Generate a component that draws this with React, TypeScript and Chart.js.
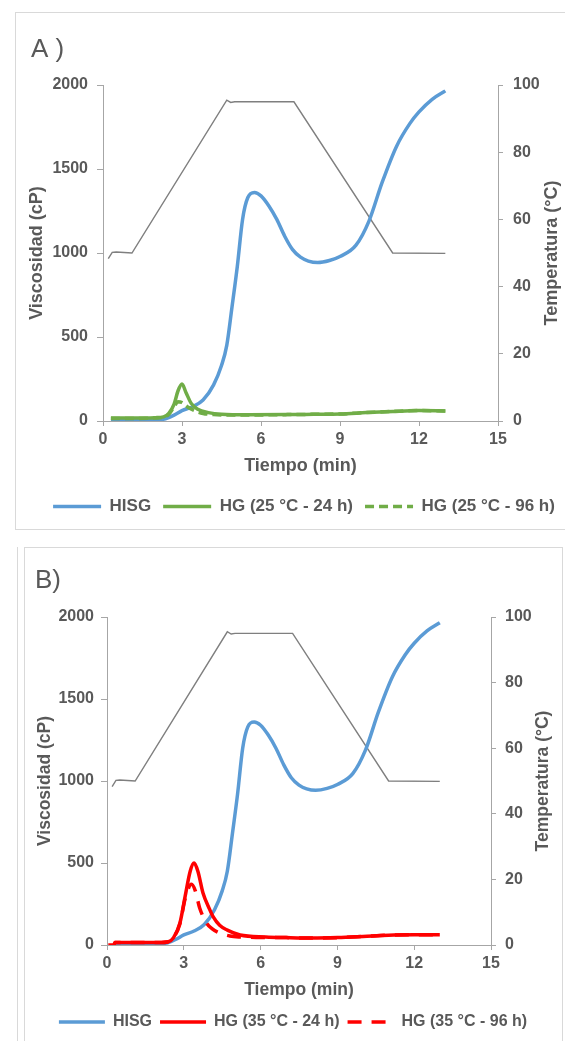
import React, { useEffect, useRef } from "react";
import { Chart, registerables } from "chart.js";

Chart.register(...registerables);

const FONT = '"Liberation Sans", Arial, sans-serif';
const TEXT = "#595959";
const AXIS = "#a6a6a6";
const FRAME = "#d9d9d9";
const BLUE = "#5B9BD5";
const GREEN = "#70AD47";
const RED = "#FF0000";
const GREY = "#7f7f7f";

// ---- Data ----
const xMin = 0;
const xMax = 15;
const xStep = 3;
const viscMax = 2000;
const viscStep = 500;
const tempMax = 100;
const tempStep = 20;

const tempTime = [0.2, 0.35, 0.5, 1.1, 4.7, 4.85, 5.0, 7.25, 11.0, 13.0];
const tempValue = [48.3, 50.2, 50.3, 50, 95.5, 94.8, 95, 95, 50, 49.9];

const hisgTime = [0.3, 1.0, 2.0, 2.4, 2.7, 3.0, 3.4, 3.8, 4.2, 4.5, 4.7, 4.9, 5.1, 5.3, 5.5, 5.75, 6.0, 6.3, 6.6, 6.9, 7.2, 7.5, 7.8, 8.15, 8.6, 9.0, 9.6, 10.1, 10.6, 11.15, 11.65, 12.0, 12.5, 13.0];
const hisgVisc = [3, 3, 5, 15, 35, 62, 85, 125, 215, 330, 450, 680, 920, 1200, 1330, 1360, 1340, 1280, 1200, 1100, 1020, 975, 952, 943, 955, 979, 1045, 1190, 1420, 1636, 1770, 1840, 1915, 1965];

const hg25d24Time = [0.3, 1.0, 2.0, 2.3, 2.5, 2.7, 2.85, 3.0, 3.15, 3.35, 3.6, 4.0, 4.5, 5.5, 7.0, 8.0, 9.0, 10.0, 11.0, 12.0, 13.0];
const hg25d24Visc = [18, 18, 20, 25, 45, 100, 180, 220, 170, 105, 70, 50, 40, 37, 38, 40, 42, 50, 57, 62, 60];

const hg25d96Time = [0.3, 1.0, 2.0, 2.3, 2.5, 2.7, 2.85, 3.0, 3.2, 3.5, 3.8, 4.2, 5.0, 6.0, 7.0, 8.0, 9.0, 10.0, 11.0, 12.0, 13.0];
const hg25d96Visc = [15, 15, 18, 22, 40, 85, 115, 110, 85, 60, 45, 38, 35, 36, 38, 40, 42, 50, 57, 62, 60];

const hg35d24Time = [0.3, 1.0, 2.0, 2.4, 2.6, 2.85, 3.05, 3.25, 3.4, 3.55, 3.75, 4.0, 4.15, 4.4, 4.7, 5.2, 6.2, 7.0, 8.0, 9.0, 10.0, 11.0, 12.0, 13.0];
const hg35d24Visc = [15, 15, 15, 20, 45, 135, 295, 450, 500, 450, 317, 220, 171, 120, 91, 61, 49, 45, 42, 45, 52, 60, 62, 62];

const hg35d96Time = [0.05, 0.28, 0.3, 1.0, 2.0, 2.4, 2.6, 2.85, 3.05, 3.3, 3.45, 3.62, 3.89, 4.1, 4.4, 4.8, 5.2, 6.0, 7.0, 8.0, 9.0, 10.0, 11.0, 12.0, 13.0];
const hg35d96Visc = [0, 2, 15, 15, 15, 20, 45, 130, 280, 370, 330, 226, 134, 100, 73, 55, 49, 46, 45, 42, 45, 52, 60, 62, 62];

const labelsA = ["HISG", "HG (25 °C - 24 h)", "HG (25 °C - 96 h)"];
const labelsB = ["HISG", "HG (35 °C - 24 h)", "HG (35 °C - 96 h)"];
const xTitle = "Tiempo (min)";
const yTitle = "Viscosidad (cP)";
const y1Title = "Temperatura (°C)";

const pts = (t: number[], v: number[]) => t.map((x, i) => ({ x, y: v[i] }));

type Spec = {
  w: number; h: number;
  leftW: number; rightW: number;
  padTop: number; padBottom: number;
  xAxisH: number; xTitlePadB: number;
  tickFont: number; titleFont: number;
  legendFont: number; legendPad: number; boxW: number;
  leftTitlePad: number; rightTitleX: number;
  yTickPad: number; yTickLen: number; y1TickPad: number;
  panelLabel: string; panelX: number; panelY: number;
  color: string; dash: number[];
  labels: string[];
  s24: { t: number[]; v: number[] };
  s96: { t: number[]; v: number[] };
};

function makeConfig(s: Spec): any {
  const lineBase = { pointRadius: 0, pointHoverRadius: 0, fill: false, cubicInterpolationMode: "monotone" as const, yAxisID: "y" };
  const datasets = [
    { label: "Temperatura", data: pts(tempTime, tempValue), borderColor: GREY, backgroundColor: GREY, borderWidth: 1.4, pointRadius: 0, tension: 0, yAxisID: "y1", order: 4 },
    { ...lineBase, label: s.labels[0], data: pts(hisgTime, hisgVisc), borderColor: BLUE, backgroundColor: BLUE, borderWidth: 3.5, order: 3 },
    { ...lineBase, label: s.labels[1], data: pts(s.s24.t, s.s24.v), borderColor: s.color, backgroundColor: s.color, borderWidth: 3.5, order: 1 },
    { ...lineBase, label: s.labels[2], data: pts(s.s96.t, s.s96.v), borderColor: s.color, backgroundColor: s.color, borderWidth: 3.5, borderDash: s.dash, order: 2 },
  ];
  const tickFont = { family: FONT, size: s.tickFont, weight: "bold" as const };
  const titleFont = { family: FONT, size: s.titleFont, weight: "bold" as const };
  const plain = (v: any) => String(v);
  const overlay = {
    id: "overlay",
    afterDraw(chart: any) {
      const ctx = chart.ctx;
      const area = chart.chartArea;
      ctx.save();
      ctx.fillStyle = TEXT;
      ctx.font = `bold ${s.titleFont}px ${FONT}`;
      ctx.textAlign = "center";
      ctx.textBaseline = "middle";
      ctx.translate(s.rightTitleX, (area.top + area.bottom) / 2);
      ctx.rotate(-Math.PI / 2);
      ctx.fillText(y1Title, 0, 0);
      ctx.restore();
      ctx.save();
      ctx.fillStyle = TEXT;
      ctx.font = `26px ${FONT}`;
      ctx.textAlign = "left";
      ctx.textBaseline = "alphabetic";
      ctx.fillText(s.panelLabel, s.panelX, s.panelY);
      ctx.restore();
    },
  };
  return {
    type: "line",
    data: { datasets },
    plugins: [overlay],
    options: {
      responsive: false,
      animation: false,
      devicePixelRatio: 1,
      layout: { padding: { top: s.padTop, bottom: s.padBottom, left: 0, right: 0 } },
      scales: {
        x: {
          type: "linear", min: xMin, max: xMax,
          ticks: { stepSize: xStep, color: TEXT, font: tickFont, padding: 4, maxRotation: 0, callback: plain },
          grid: { drawOnChartArea: false, drawTicks: true, tickLength: 5, color: AXIS },
          border: { color: AXIS, width: 1 },
          title: { display: true, text: xTitle, color: TEXT, font: titleFont, padding: { top: 0, bottom: s.xTitlePadB } },
          afterFit: (sc: any) => { sc.height = s.xAxisH; },
        },
        y: {
          type: "linear", position: "left", min: 0, max: viscMax,
          ticks: { stepSize: viscStep, color: TEXT, font: tickFont, padding: s.yTickPad, callback: plain },
          grid: { drawOnChartArea: false, drawTicks: true, tickLength: s.yTickLen, color: AXIS },
          border: { color: AXIS, width: 1 },
          title: { display: true, text: yTitle, color: TEXT, font: titleFont, padding: { top: s.leftTitlePad, bottom: 0 } },
          afterFit: (sc: any) => { sc.width = s.leftW; },
        },
        y1: {
          type: "linear", position: "right", min: 0, max: tempMax,
          ticks: { stepSize: tempStep, color: TEXT, font: tickFont, padding: s.y1TickPad, callback: plain },
          grid: { drawOnChartArea: false, drawTicks: true, tickLength: 5, color: AXIS },
          border: { color: AXIS, width: 1 },
          afterFit: (sc: any) => { sc.width = s.rightW; },
        },
      },
      plugins: {
        tooltip: { enabled: false },
        legend: {
          display: true,
          position: "bottom",
          labels: {
            usePointStyle: true,
            pointStyle: "line",
            pointStyleWidth: s.boxW,
            color: TEXT,
            font: { family: FONT, size: s.legendFont, weight: "bold" },
            padding: s.legendPad,
            generateLabels: (chart: any) => {
              const base = (Chart as any).defaults.plugins.legend.labels.generateLabels(chart);
              return base.map((item: any) => {
                const ds = chart.data.datasets[item.datasetIndex];
                return { ...item, lineDash: ds.borderDash || [], lineWidth: ds.borderWidth, strokeStyle: ds.borderColor, pointStyle: "line" };
              });
            },
            filter: (item: any) => item.datasetIndex !== 0,
            sort: (a: any, b: any) => a.datasetIndex - b.datasetIndex,
          },
        },
      },
    },
  };
}

const specA: Spec = {
  w: 578, h: 517, leftW: 88, rightW: 95, padTop: 73, padBottom: 4,
  xAxisH: 65, xTitlePadB: 9, tickFont: 16, titleFont: 18,
  legendFont: 17, legendPad: 12, boxW: 48,
  leftTitlePad: 11, rightTitleX: 537, yTickPad: 9, yTickLen: 6, y1TickPad: 10,
  panelLabel: "A )", panelX: 16, panelY: 45,
  color: GREEN, dash: [9, 5], labels: labelsA,
  s24: { t: hg25d24Time, v: hg25d24Visc }, s96: { t: hg25d96Time, v: hg25d96Visc },
};

const specB: Spec = {
  w: 538, h: 494, leftW: 83, rightW: 71, padTop: 70, padBottom: 1,
  xAxisH: 61, xTitlePadB: 5, tickFont: 16, titleFont: 17.5,
  legendFont: 16, legendPad: 8, boxW: 46,
  leftTitlePad: 11, rightTitleX: 519, yTickPad: 7, yTickLen: 6, y1TickPad: 9,
  panelLabel: "B)", panelX: 11, panelY: 41,
  color: RED, dash: [14, 10], labels: labelsB,
  s24: { t: hg35d24Time, v: hg35d24Visc }, s96: { t: hg35d96Time, v: hg35d96Visc },
};

function Panel({ spec, left, top }: { spec: Spec; left: number; top: number }) {
  const ref = useRef<HTMLCanvasElement | null>(null);
  useEffect(() => {
    if (!ref.current) return;
    const chart = new Chart(ref.current, makeConfig(spec));
    return () => chart.destroy();
  }, [spec]);
  return (
    <canvas
      ref={ref}
      width={spec.w}
      height={spec.h}
      style={{ position: "absolute", left, top, width: spec.w, height: spec.h, display: "block" }}
    />
  );
}

export default function App() {
  return (
    <div style={{ position: "absolute", left: 0, top: 0, width: 565, height: 1041, overflow: "hidden", background: "#fff" }}>
      <div style={{ position: "absolute", left: 15, top: 12, width: 600, height: 518, border: `1px solid ${FRAME}`, boxSizing: "border-box" }} />
      <div style={{ position: "absolute", left: 24, top: 547, width: 539, height: 600, border: `1px solid ${FRAME}`, boxSizing: "border-box" }} />
      <div style={{ position: "absolute", left: 17, top: 547, width: 1, height: 494, background: FRAME }} />
      <Panel spec={specA} left={15} top={12} />
      <Panel spec={specB} left={24} top={547} />
    </div>
  );
}
